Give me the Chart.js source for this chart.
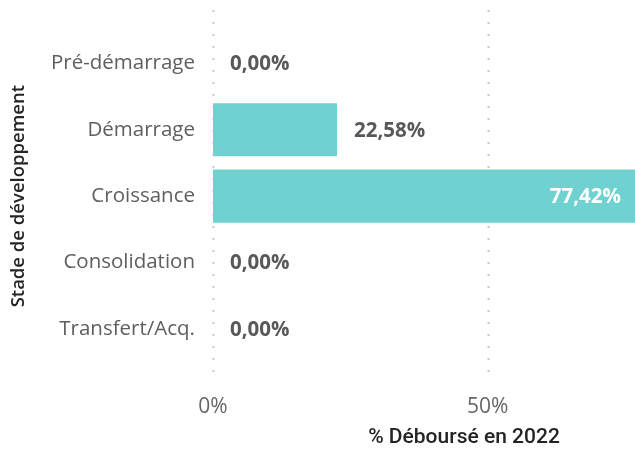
<!DOCTYPE html>
<html><head><meta charset="utf-8">
<script src="https://cdn.jsdelivr.net/npm/chart.js@4"></script>
<style>html,body{margin:0;padding:0;background:#fff;}#wrap{width:635px;height:452px;}</style>
</head><body><div id="wrap"><canvas id="c" width="635" height="452"></canvas></div>
<script>
const categories = ["Pré-démarrage","Démarrage","Croissance","Consolidation","Transfert/Acq."];
const values = [0, 22.58, 77.42, 0, 0];
const xTicks = [0, 50];
const xTitle = "% Déboursé en 2022";
const yTitle = "Stade de développement";

const fmt = v => v.toFixed(2).replace('.', ',') + '%';

const gridPlugin = {
  id: 'dotgrid',
  beforeDatasetsDraw(chart) {
    const ctx = chart.ctx, xs = chart.scales.x;
    ctx.save();
    ctx.strokeStyle = '#c8c8c8';
    ctx.lineWidth = 2;
    ctx.setLineDash([2, 10]);
    xTicks.forEach(t => {
      const x = Math.round(xs.getPixelForValue(t)) + 0.5;
      ctx.beginPath();
      ctx.moveTo(x, 10);
      ctx.lineTo(x, 382);
      ctx.stroke();
    });
    ctx.restore();
  },
  afterDatasetsDraw(chart) {
    const ctx = chart.ctx;
    const meta = chart.getDatasetMeta(0);
    const ca = chart.chartArea;
    ctx.save();
    ctx.font = 'bold 20.5px "Open Sans"';
    ctx.textBaseline = 'middle';
    meta.data.forEach((bar, i) => {
      const v = values[i];
      const txt = fmt(v);
      const w = ctx.measureText(txt).width;
      const end = Math.min(bar.x, ca.right);
      if (end + 17 + w > ca.right) {
        ctx.fillStyle = '#ffffff';
        ctx.textAlign = 'right';
        ctx.fillText(txt, ca.right - 14, bar.y + 1);
      } else {
        ctx.fillStyle = '#595959';
        ctx.textAlign = 'left';
        ctx.fillText(txt, end + 17, bar.y + 1);
      }
    });
    // x axis title
    ctx.font = '500 21px Roboto';
    ctx.fillStyle = '#252423';
    ctx.textAlign = 'center';
    ctx.textBaseline = 'middle';
    ctx.fillText(xTitle, 464, 438);
    ctx.restore();
  }
};

new Chart(document.getElementById('c'), {
  type: 'bar',
  data: {
    labels: categories,
    datasets: [{
      data: values,
      backgroundColor: '#70D1D1',
      borderWidth: 0,
      categoryPercentage: 0.8,
      barPercentage: 1.0
    }]
  },
  options: {
    indexAxis: 'y',
    responsive: false,
    animation: false,
    devicePixelRatio: 1,
    layout: { padding: { top: 21, right: 0, left: 8, bottom: 0 } },
    plugins: { legend: { display: false }, tooltip: { enabled: false } },
    scales: {
      x: {
        min: 0, max: 76.8,
        afterBuildTicks: s => { s.ticks = xTicks.map(v => ({ value: v })); },
        grid: { display: false, drawTicks: false },
        border: { display: false },
        ticks: { color: '#666666', font: { family: '"Open Sans"', size: 21 }, padding: 32, callback: v => v + '%', maxRotation: 0 },
        afterFit: s => { s.height = 90; }
      },
      y: {
        grid: { display: false, drawTicks: false },
        border: { display: false },
        ticks: { color: '#605E5C', font: { family: '"Open Sans"', size: 20.5 }, padding: 18 },
        title: { display: true, text: yTitle, color: '#252423', font: { family: '"Open Sans"', size: 18.5, weight: '600' }, padding: { top: 0, bottom: 0 } },
        afterFit: s => { s.width = 205; }
      }
    }
  },
  plugins: [gridPlugin]
});
</script></body></html>
